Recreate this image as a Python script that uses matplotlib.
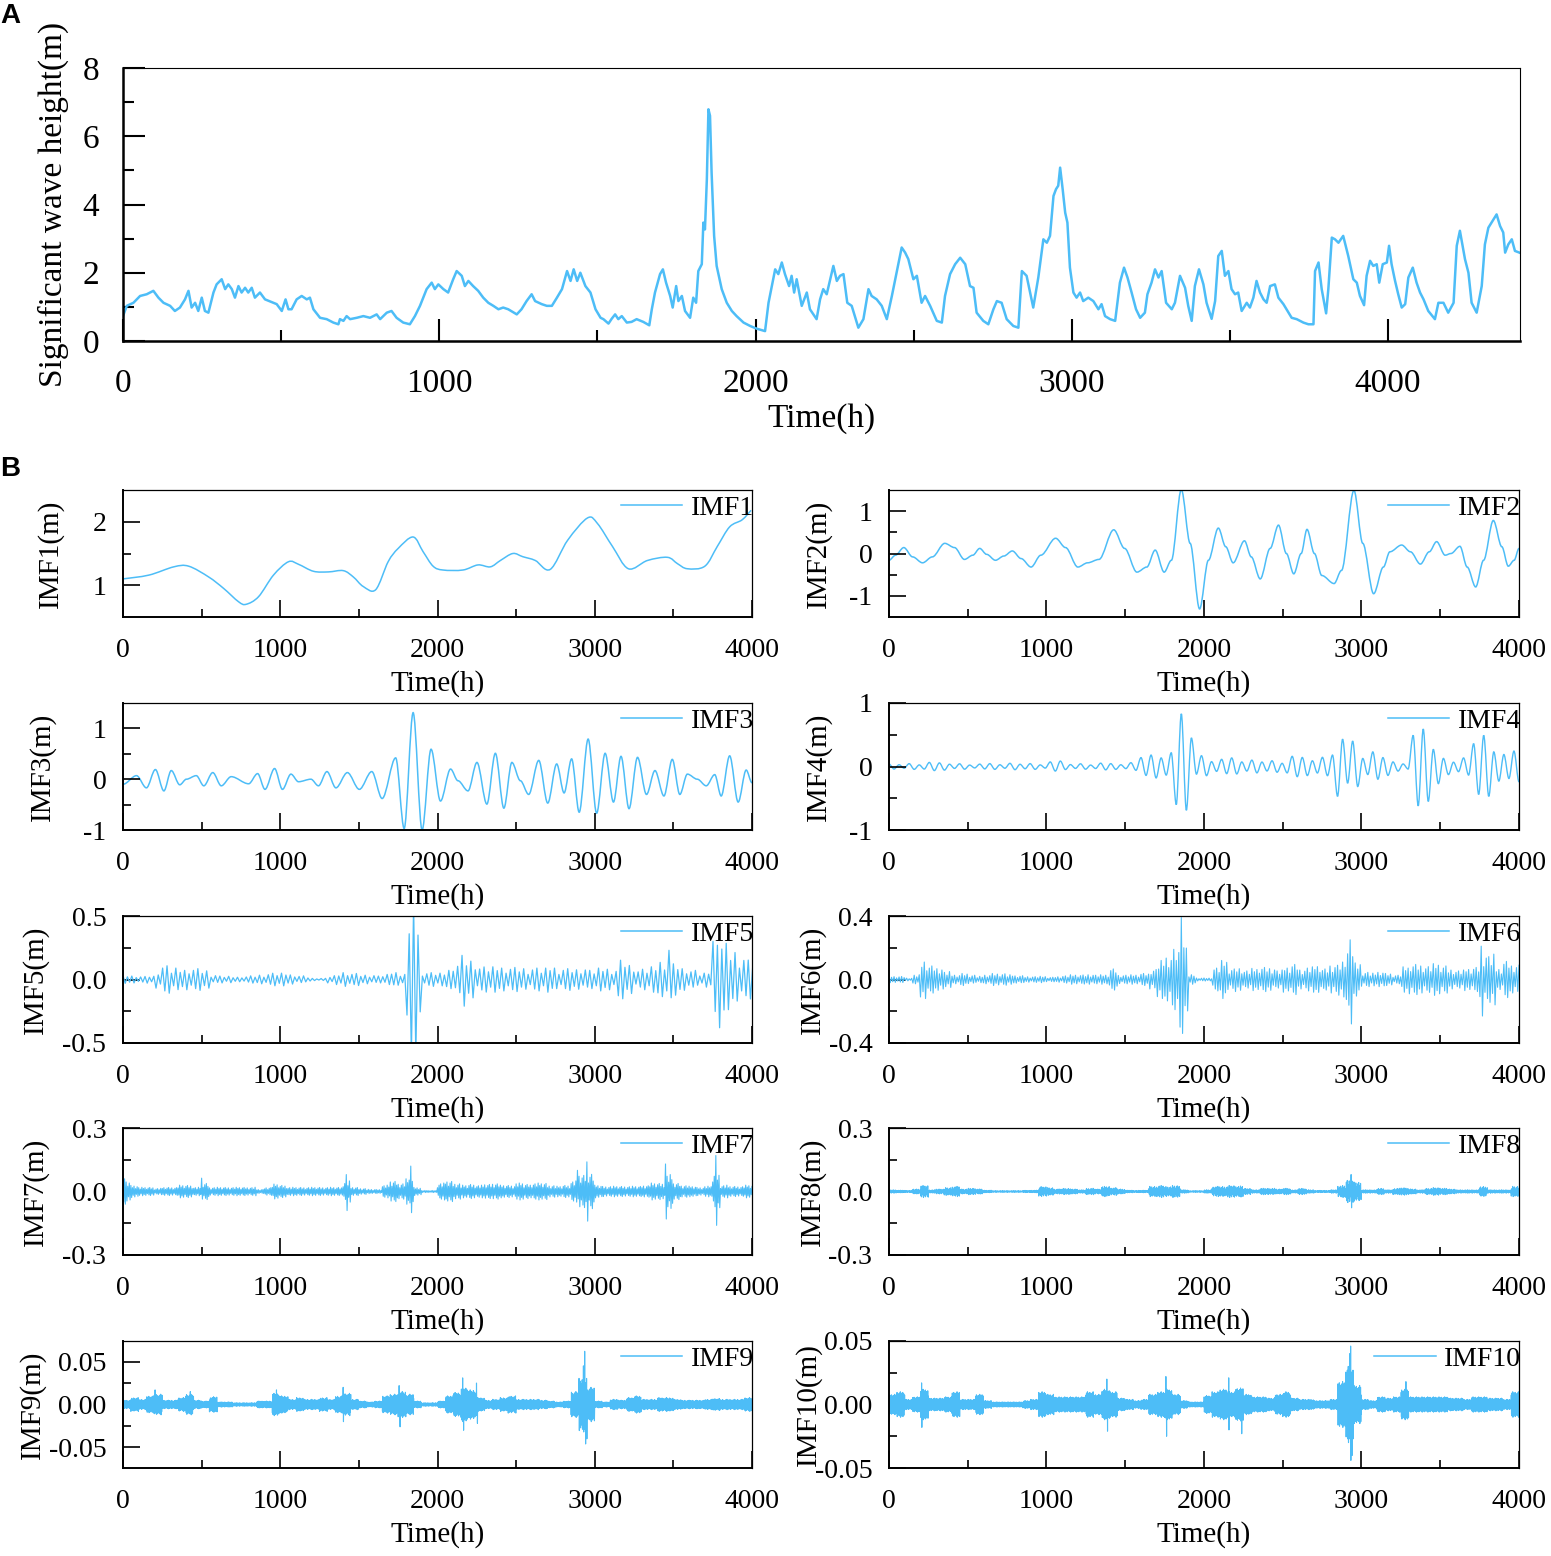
import matplotlib.pyplot as plt
import numpy as np
from matplotlib.lines import Line2D
from matplotlib.path import Path
from matplotlib.patches import PathPatch
from matplotlib.ticker import MultipleLocator

plt.rcParams['font.family'] = ['Liberation Serif', 'DejaVu Serif']
plt.rcParams['axes.unicode_minus'] = False

BLUE = '#4dbdf7'

# ---- panel A: significant wave height ----
hs_time = [
    0, 12, 33, 54, 75, 96, 112, 128, 149, 164, 180, 196, 207, 217, 228, 238, 249, 259, 270, 286,
    296, 312, 323, 333, 344, 354, 365, 375, 386, 396, 407, 417, 433, 449, 470, 486, 502, 514, 523, 533,
    549, 565, 581, 591, 602, 623, 644, 665, 681, 686, 697, 707, 718, 739, 760, 781, 802, 813, 834, 849,
    865, 886, 907, 923, 939, 960, 976, 986, 997, 1013, 1028, 1044, 1055, 1071, 1081, 1092, 1107, 1123, 1139, 1155,
    1171, 1187, 1202, 1218, 1245, 1260, 1276, 1292, 1303, 1324, 1340, 1356, 1372, 1388, 1404, 1415, 1425, 1436, 1446, 1462,
    1478, 1494, 1510, 1519, 1535, 1545, 1556, 1566, 1577, 1593, 1608, 1624, 1645, 1664, 1672, 1682, 1698, 1707, 1717, 1730,
    1738, 1749, 1756, 1767, 1777, 1793, 1803, 1812, 1819, 1830, 1835, 1840, 1846, 1851, 1856, 1861, 1869, 1877, 1893, 1909,
    1925, 1940, 1962, 1983, 2004, 2030, 2041, 2062, 2072, 2083, 2093, 2106, 2114, 2122, 2130, 2146, 2162, 2172, 2193, 2204,
    2214, 2225, 2236, 2246, 2257, 2267, 2278, 2290, 2304, 2325, 2341, 2357, 2367, 2383, 2399, 2415, 2431, 2446, 2462, 2473,
    2483, 2499, 2510, 2525, 2536, 2552, 2573, 2589, 2599, 2615, 2631, 2647, 2663, 2678, 2689, 2699, 2720, 2736, 2752, 2763,
    2778, 2794, 2815, 2831, 2842, 2857, 2878, 2894, 2910, 2921, 2931, 2942, 2950, 2957, 2963, 2971, 2979, 2986, 2994, 3005,
    3015, 3026, 3036, 3052, 3068, 3084, 3094, 3105, 3121, 3137, 3152, 3165, 3176, 3189, 3203, 3216, 3231, 3239, 3252, 3263,
    3274, 3284, 3298, 3316, 3326, 3342, 3358, 3368, 3379, 3389, 3402, 3416, 3426, 3442, 3453, 3463, 3474, 3484, 3495, 3505,
    3516, 3526, 3537, 3553, 3563, 3574, 3584, 3595, 3606, 3616, 3627, 3642, 3653, 3669, 3685, 3695, 3711, 3732, 3748, 3764,
    3769, 3780, 3790, 3804, 3811, 3822, 3832, 3843, 3858, 3874, 3890, 3901, 3911, 3924, 3932, 3943, 3953, 3964, 3972, 3983,
    3996, 4003, 4011, 4022, 4032, 4043, 4054, 4064, 4078, 4090, 4101, 4112, 4127, 4148, 4159, 4175, 4190, 4207, 4217, 4227,
    4243, 4254, 4264, 4280, 4296, 4306, 4317, 4327, 4343, 4354, 4364, 4370, 4380, 4391, 4401, 4415,
]
hs_value = [
    0.73, 1.03, 1.12, 1.32, 1.37, 1.47, 1.27, 1.12, 1.03, 0.88, 0.98, 1.22, 1.47, 0.98, 1.12, 0.88, 1.27, 0.88, 0.83, 1.42,
    1.66, 1.81, 1.52, 1.66, 1.52, 1.27, 1.61, 1.42, 1.56, 1.42, 1.56, 1.27, 1.42, 1.22, 1.14, 1.08, 0.88, 1.22, 0.93, 0.93,
    1.22, 1.32, 1.22, 1.27, 0.93, 0.68, 0.64, 0.54, 0.49, 0.64, 0.59, 0.73, 0.64, 0.68, 0.73, 0.68, 0.78, 0.64, 0.83, 0.88,
    0.68, 0.54, 0.49, 0.73, 1.03, 1.52, 1.71, 1.52, 1.66, 1.52, 1.42, 1.81, 2.05, 1.91, 1.61, 1.76, 1.61, 1.47, 1.27, 1.12,
    1.03, 0.93, 0.98, 0.93, 0.78, 0.93, 1.17, 1.37, 1.17, 1.08, 1.03, 1.03, 1.27, 1.52, 2.05, 1.76, 2.10, 1.76, 2.00, 1.61,
    1.42, 0.93, 0.68, 0.64, 0.51, 0.65, 0.78, 0.64, 0.73, 0.54, 0.56, 0.64, 0.56, 0.46, 0.93, 1.42, 1.96, 2.10, 1.71, 1.32,
    0.98, 1.61, 1.17, 1.32, 0.88, 0.68, 1.27, 1.12, 2.05, 2.25, 3.47, 3.27, 4.74, 6.79, 6.60, 4.94, 3.08, 2.20, 1.52, 1.12,
    0.88, 0.73, 0.54, 0.44, 0.36, 0.29, 1.12, 2.10, 1.96, 2.30, 1.96, 1.61, 1.91, 1.42, 1.81, 1.03, 1.42, 0.93, 0.64, 1.22,
    1.52, 1.37, 1.81, 2.20, 1.76, 1.91, 1.96, 1.12, 1.03, 0.39, 0.64, 1.52, 1.32, 1.22, 1.03, 0.64, 1.32, 2.00, 2.74, 2.59,
    2.40, 1.81, 1.91, 1.12, 1.32, 1.03, 0.59, 0.54, 1.32, 1.96, 2.25, 2.44, 2.25, 1.61, 1.56, 0.83, 0.59, 0.49, 0.93, 1.17,
    1.12, 0.64, 0.44, 0.39, 2.05, 1.91, 0.98, 1.86, 2.98, 2.88, 3.08, 4.25, 4.45, 4.55, 5.08, 4.45, 3.76, 3.47, 2.15, 1.42,
    1.27, 1.42, 1.17, 1.27, 1.17, 0.93, 1.08, 0.73, 0.64, 0.59, 1.71, 2.15, 1.86, 1.42, 0.93, 0.68, 0.83, 1.37, 1.71, 2.10,
    1.86, 2.05, 1.12, 0.93, 1.12, 1.91, 1.56, 1.03, 0.59, 1.61, 2.10, 1.66, 1.12, 0.65, 1.17, 2.49, 2.64, 1.91, 2.05, 1.52,
    1.37, 1.42, 0.88, 1.12, 0.98, 1.27, 1.76, 1.42, 1.22, 1.12, 1.61, 1.66, 1.27, 1.08, 0.83, 0.68, 0.64, 0.54, 0.49, 0.49,
    2.05, 2.30, 1.52, 0.81, 1.52, 3.03, 2.98, 2.88, 3.08, 2.49, 1.81, 1.71, 1.32, 1.05, 1.91, 2.35, 2.20, 2.25, 1.71, 2.25,
    2.30, 2.79, 2.25, 1.76, 1.37, 0.98, 1.08, 1.86, 2.15, 1.71, 1.42, 1.22, 0.88, 0.64, 1.12, 1.12, 0.83, 1.12, 2.79, 3.23,
    2.40, 2.00, 1.12, 0.83, 1.61, 2.83, 3.32, 3.47, 3.71, 3.37, 3.18, 2.59, 2.83, 2.98, 2.64, 2.59,
]

# ---- IMF1: smooth trend ----
imf1_time = [0, 165, 323, 418, 545, 640, 735, 783, 862, 957, 1052, 1116, 1211, 1306, 1401, 1465, 1528,
             1607, 1686, 1750, 1845, 1908, 1972, 2035, 2162, 2257, 2336, 2400, 2479, 2542, 2622, 2717,
             2828, 2954, 3018, 3113, 3214, 3335, 3462, 3526, 3589, 3700, 3779, 3858, 3937, 3994]
imf1_value = [1.10, 1.16, 1.29, 1.30, 1.13, 0.95, 0.74, 0.70, 0.82, 1.16, 1.37, 1.33, 1.22, 1.21, 1.23,
              1.13, 0.98, 0.93, 1.37, 1.58, 1.76, 1.53, 1.30, 1.24, 1.24, 1.32, 1.29, 1.39, 1.50, 1.45,
              1.39, 1.25, 1.71, 2.06, 1.97, 1.61, 1.26, 1.39, 1.44, 1.34, 1.26, 1.30, 1.61, 1.92, 2.03, 2.18]

# ---- IMF2 / IMF3: successive extrema (time, value) ----
imf2_time = [0, 41, 94, 150, 213, 275, 354, 416, 479, 532, 576, 620, 676, 729, 783, 839, 902, 964, 1058,
             1121, 1199, 1261, 1333, 1427, 1496, 1574, 1637, 1690, 1747, 1793, 1856, 1912, 1972, 2028,
             2091, 2138, 2185, 2257, 2300, 2357, 2420, 2473, 2523, 2570, 2617, 2654, 2701, 2748, 2826,
             2873, 2952, 3008, 3077, 3139, 3180, 3255, 3311, 3374, 3430, 3477, 3531, 3568, 3625, 3671,
             3725, 3775, 3837, 3891, 3932, 3969, 4000]
imf2_value = [-0.16, -0.04, 0.14, -0.08, -0.22, -0.08, 0.24, 0.14, -0.14, -0.04, 0.12, -0.02, -0.16, -0.06,
              0.06, -0.12, -0.32, -0.04, 0.36, 0.14, -0.32, -0.22, -0.14, 0.56, 0.12, -0.44, -0.32, 0.08,
              -0.44, -0.16, 1.51, 0.24, -1.31, -0.16, 0.60, 0.16, -0.22, 0.30, -0.08, -0.60, 0.12, 0.67,
              0.0, -0.48, 0.0, 0.57, 0.0, -0.52, -0.71, -0.40, 1.49, 0.24, -0.95, -0.32, 0.04, 0.20, 0.04,
              -0.25, 0.04, 0.28, -0.04, 0.0, 0.17, -0.32, -0.79, -0.16, 0.78, 0.16, -0.30, -0.16, 0.12]

imf3_time = [0, 86, 149, 206, 260, 307, 361, 403, 466, 514, 571, 625, 688, 799, 856, 903, 964, 1014, 1068,
             1116, 1195, 1243, 1297, 1354, 1427, 1503, 1582, 1648, 1734, 1788, 1845, 1902, 1959, 2019,
             2083, 2130, 2194, 2251, 2314, 2368, 2422, 2473, 2527, 2580, 2644, 2701, 2758, 2805, 2853,
             2901, 2958, 3012, 3066, 3119, 3167, 3218, 3272, 3329, 3383, 3440, 3493, 3541, 3589, 3652,
             3709, 3763, 3804, 3858, 3912, 3963, 4000]
imf3_value = [-0.10, 0.07, -0.17, 0.19, -0.23, 0.17, -0.11, 0.0, 0.07, -0.13, 0.13, -0.13, 0.05, -0.09,
              0.11, -0.20, 0.21, -0.20, 0.10, -0.05, 0.0, -0.13, 0.15, -0.17, 0.13, -0.20, 0.15, -0.38,
              0.42, -0.97, 1.31, -1.0, 0.59, -0.43, 0.20, -0.03, -0.23, 0.33, -0.49, 0.51, -0.57, 0.33,
              -0.03, -0.30, 0.37, -0.47, 0.30, -0.27, 0.40, -0.65, 0.79, -0.67, 0.51, -0.45, 0.45, -0.58,
              0.43, -0.30, 0.17, -0.33, 0.39, -0.30, 0.10, 0.0, -0.13, 0.09, -0.33, 0.46, -0.45, 0.18, -0.07]

# ---- IMF4..IMF10: envelope per time bin (m) ----
imf4_amp = [0.04, 0.05, 0.08, 0.06, 0.05, 0.05, 0.05, 0.05, 0.05, 0.05,
            0.09, 0.05, 0.05, 0.07, 0.05, 0.06, 0.20, 0.27, 0.65, 0.20,
            0.17, 0.15, 0.13, 0.10, 0.10, 0.20, 0.15, 0.17, 0.40, 0.35,
            0.23, 0.20, 0.08, 0.45, 0.45, 0.15, 0.18, 0.40, 0.23, 0.27]
imf5_amp = [0.03, 0.03, 0.025, 0.03, 0.08, 0.12, 0.09, 0.08, 0.09, 0.09,
            0.08, 0.04, 0.03, 0.025, 0.02, 0.025, 0.03, 0.04, 0.05, 0.055,
            0.05, 0.04, 0.03, 0.02, 0.01, 0.01, 0.03, 0.04, 0.06, 0.05,
            0.04, 0.04, 0.03, 0.04, 0.06, 0.05, 0.35, 0.30, 0.06, 0.06,
            0.05, 0.08, 0.13, 0.18, 0.17, 0.11, 0.11, 0.10, 0.10, 0.10,
            0.10, 0.09, 0.10, 0.09, 0.10, 0.08, 0.09, 0.09, 0.10, 0.08,
            0.09, 0.09, 0.08, 0.16, 0.13, 0.08, 0.09, 0.10, 0.15, 0.18,
            0.13, 0.10, 0.08, 0.05, 0.06, 0.28, 0.30, 0.25, 0.20, 0.17]
imf6_amp = [0.02, 0.02, 0.01, 0.03, 0.11, 0.09, 0.08, 0.05, 0.03, 0.04,
            0.03, 0.02, 0.03, 0.04, 0.04, 0.03, 0.025, 0.02, 0.02, 0.02,
            0.015, 0.02, 0.025, 0.03, 0.03, 0.035, 0.03, 0.03, 0.07, 0.03,
            0.03, 0.03, 0.04, 0.07, 0.12, 0.15, 0.20, 0.22, 0.03, 0.01,
            0.01, 0.08, 0.12, 0.07, 0.08, 0.06, 0.07, 0.08, 0.08, 0.06,
            0.08, 0.10, 0.07, 0.08, 0.09, 0.07, 0.10, 0.11, 0.18, 0.11,
            0.05, 0.04, 0.05, 0.04, 0.03, 0.08, 0.10, 0.10, 0.09, 0.10,
            0.09, 0.07, 0.06, 0.07, 0.08, 0.18, 0.16, 0.07, 0.12, 0.10]
imf7_amp = [0.05, 0.03, 0.02, 0.02, 0.015, 0.02, 0.02, 0.03, 0.03, 0.02,
            0.04, 0.02, 0.02, 0.02, 0.02, 0.02, 0.02, 0.01, 0.02, 0.035,
            0.03, 0.02, 0.02, 0.02, 0.02, 0.02, 0.02, 0.02, 0.05, 0.02,
            0.015, 0.01, 0.01, 0.03, 0.05, 0.04, 0.06, 0.02, 0.005, 0.005,
            0.04, 0.05, 0.04, 0.03, 0.035, 0.03, 0.035, 0.04, 0.03, 0.03,
            0.04, 0.035, 0.04, 0.04, 0.03, 0.025, 0.03, 0.05, 0.08, 0.09,
            0.03, 0.025, 0.025, 0.025, 0.025, 0.025, 0.03, 0.04, 0.04, 0.08,
            0.04, 0.03, 0.025, 0.02, 0.025, 0.09, 0.03, 0.025, 0.025, 0.03]
imf8_amp = [0.008, 0.006, 0.005, 0.012, 0.028, 0.008, 0.012, 0.018, 0.024, 0.012,
            0.015, 0.012, 0.006, 0.004, 0.004, 0.004, 0.004, 0.005, 0.006, 0.024,
            0.018, 0.012, 0.015, 0.012, 0.008, 0.015, 0.012, 0.024, 0.018, 0.012,
            0.006, 0.005, 0.006, 0.024, 0.028, 0.024, 0.028, 0.008, 0.004, 0.004,
            0.008, 0.024, 0.024, 0.028, 0.026, 0.015, 0.008, 0.015, 0.015, 0.012,
            0.015, 0.008, 0.015, 0.008, 0.005, 0.005, 0.008, 0.028, 0.055, 0.045,
            0.008, 0.008, 0.015, 0.008, 0.015, 0.018, 0.012, 0.008, 0.015, 0.018,
            0.015, 0.012, 0.008, 0.008, 0.008, 0.024, 0.008, 0.008, 0.008, 0.024]
imf9_amp = [0.005, 0.008, 0.006, 0.01, 0.012, 0.005, 0.005, 0.008, 0.012, 0.005,
            0.004, 0.009, 0.003, 0.003, 0.002, 0.002, 0.002, 0.004, 0.004, 0.013,
            0.01, 0.006, 0.008, 0.006, 0.006, 0.008, 0.006, 0.01, 0.013, 0.006,
            0.004, 0.003, 0.004, 0.01, 0.012, 0.015, 0.012, 0.004, 0.002, 0.002,
            0.004, 0.01, 0.014, 0.02, 0.017, 0.008, 0.005, 0.006, 0.008, 0.01,
            0.006, 0.006, 0.006, 0.005, 0.004, 0.003, 0.004, 0.015, 0.032, 0.02,
            0.004, 0.003, 0.006, 0.005, 0.008, 0.01, 0.006, 0.006, 0.008, 0.008,
            0.006, 0.005, 0.005, 0.005, 0.006, 0.007, 0.006, 0.006, 0.006, 0.008]
imf10_amp = [0.008, 0.01, 0.004, 0.006, 0.012, 0.005, 0.005, 0.006, 0.01, 0.004,
             0.004, 0.008, 0.003, 0.002, 0.002, 0.002, 0.002, 0.003, 0.004, 0.01,
             0.008, 0.006, 0.006, 0.006, 0.006, 0.01, 0.008, 0.012, 0.01, 0.005,
             0.004, 0.003, 0.004, 0.008, 0.01, 0.012, 0.008, 0.003, 0.002, 0.002,
             0.007, 0.01, 0.012, 0.01, 0.013, 0.008, 0.006, 0.006, 0.005, 0.008,
             0.01, 0.005, 0.004, 0.004, 0.003, 0.003, 0.004, 0.018, 0.03, 0.015,
             0.004, 0.003, 0.006, 0.005, 0.006, 0.012, 0.006, 0.006, 0.006, 0.006,
             0.006, 0.005, 0.005, 0.004, 0.006, 0.006, 0.005, 0.005, 0.004, 0.01]

# half period of the oscillation of each IMF (h)
half_period = {4: 32, 5: 14, 6: 8, 7: 5, 8: 3, 9: 2, 10: 1.5}

# isolated spikes (time h, value m) that stand above the envelope
imf4_spikes = [(1815, -0.60), (1856, 0.83), (1887, -0.69), (1918, 0.45), (2851, 0.43), (2880, -0.47),
               (2914, 0.40), (3343, 0.49), (3374, -0.62), (3405, 0.59), (3437, -0.55), (3744, -0.44),
               (3775, 0.49), (3803, -0.47)]
imf5_spikes = [(1820, 0.36), (1835, -0.60), (1850, 0.60), (1865, -0.60), (1880, 0.35), (2162, 0.19),
               (2176, -0.21), (3462, 0.23), (3750, 0.30), (3800, -0.38), (3780, 0.27)]
imf6_spikes = [(1845, -0.30), (1853, 0.39), (1861, -0.34), (1869, 0.20), (2925, 0.25), (2941, -0.28),
               (3764, 0.21), (3772, -0.23), (228, 0.11), (236, -0.12)]
imf7_spikes = [(10, 0.06), (15, -0.06), (497, 0.063), (1417, 0.08), (1425, -0.09), (1830, 0.12),
               (1835, -0.10), (2890, 0.10), (2954, 0.14), (2960, -0.14), (3455, 0.13), (3460, -0.13),
               (3769, 0.17), (3775, -0.16)]
imf8_spikes = [(2925, 0.05), (2937, 0.08), (2940, -0.077), (2952, -0.05)]
imf9_spikes = [(2930, 0.045), (2938, 0.062), (2942, -0.046), (2950, -0.04), (2162, 0.031), (2166, -0.030),
               (2250, 0.025), (2254, -0.022), (1401, 0.020), (1404, -0.020), (1758, 0.022), (1762, -0.026),
               (203, 0.017), (428, 0.015), (975, 0.017)]
imf10_spikes = [(2925, 0.040), (2931, 0.046), (2934, -0.044), (2942, -0.040), (1384, 0.020), (1387, -0.021),
                (1759, 0.022), (1762, -0.025), (2156, 0.021), (2159, -0.020), (206, 0.017), (209, -0.018),
                (3281, 0.018), (2240, -0.023)]

# uneven height of successive swings inside a bin, so bursts are not flat bands
swing_texture = [1.0, 0.7, 0.9, 0.5, 0.8, 0.95, 0.6, 0.85, 0.45, 0.75, 0.9, 0.55]


def flat_path(t, v):
    # cubic Bezier segments with flat tangents at each extremum
    verts = [(t[0], v[0])]
    codes = [Path.MOVETO]
    for i in range(1, len(t)):
        dt = t[i] - t[i - 1]
        verts += [(t[i - 1] + dt / 3, v[i - 1]), (t[i] - dt / 3, v[i]), (t[i], v[i])]
        codes += [Path.CURVE4] * 3
    return Path(verts, codes)


def spline_path(t, v):
    # Catmull-Rom style Bezier path through the read points
    p = np.column_stack([t, v]).astype(float)
    ext = np.vstack([p[0], p, p[-1]])
    verts = [tuple(p[0])]
    codes = [Path.MOVETO]
    for i in range(1, len(p)):
        c1 = ext[i] + (ext[i + 1] - ext[i - 1]) / 6
        c2 = ext[i + 1] - (ext[i + 2] - ext[i]) / 6
        verts += [tuple(c1), tuple(c2), tuple(p[i])]
        codes += [Path.CURVE4] * 3
    return Path(verts, codes)


def dense_trace(amp, half, spikes):
    t = np.arange(0, 4000 + half, half)
    bin_w = 4000 / len(amp)
    idx = np.minimum((t // bin_w).astype(int), len(amp) - 1)
    k_all = np.arange(len(t))
    sign = np.where(k_all % 2 == 0, 1.0, -1.0)
    tex = np.asarray(swing_texture)[(k_all // 2) % len(swing_texture)]
    v = sign * np.asarray(amp)[idx] * tex
    for ts, vs in spikes:
        k = int(round(ts / half))
        if np.sign(vs) != sign[min(k, len(t) - 1)]:
            k = k + 1 if ts / half > k else k - 1
        k = min(max(k, 0), len(t) - 1)
        v[k] = vs
    return t, v


W, H = 1551, 1556
fig = plt.figure(figsize=(W / 100, H / 100), dpi=100)


def px_axes(left, top, right, bottom):
    return fig.add_axes([left / W, 1 - bottom / H, (right - left) / W, (bottom - top) / H])


# ---------------- panel A ----------------
ax = px_axes(123, 68, 1520, 341)
ax.plot(hs_time, hs_value, color=BLUE, lw=1.8)
ax.set_xlim(0, 4417)
ax.set_ylim(0, 8)
ax.set_xticks([0, 1000, 2000, 3000, 4000])
ax.xaxis.set_minor_locator(MultipleLocator(500))
ax.set_yticks([0, 2, 4, 6, 8])
ax.yaxis.set_minor_locator(MultipleLocator(1))
ax.tick_params(which='both', direction='in', top=False, right=False, labelsize=24, width=1.5)
ax.tick_params(which='major', length=16)
ax.tick_params(which='minor', length=8)
ax.tick_params(axis='x', pad=20)
ax.tick_params(axis='y', pad=17)
for s in ['left', 'bottom']:
    ax.spines[s].set_linewidth(1.8)
for s in ['top', 'right']:
    ax.spines[s].set_linewidth(0.8)
ax.set_xlabel('Time(h)', fontsize=24, labelpad=3)
ax.set_ylabel('Significant wave height(m)', fontsize=24, labelpad=10)

fig.text(0 / W, 1 - 3 / H, 'A', family='Liberation Sans', weight='bold', fontsize=20, va='top')
fig.text(0 / W, 1 - 456 / H, 'B', family='Liberation Sans', weight='bold', fontsize=20, va='top')

# ---------------- panel B ----------------
cols = [(123, 752), (889, 1519)]
rows = [490, 703, 916, 1128, 1341]
# horizontal centre (px) of each IMF y label in the reference
ylabel_x = {1: 50, 3: 42, 5: 35, 7: 35, 9: 32, 2: 818, 4: 818, 6: 812, 8: 812, 10: 808}

imf_specs = {
    1: dict(ylim=(0.5, 2.5), ticks=[1, 2], labels=['1', '2'], minor=[1.5]),
    2: dict(ylim=(-1.5, 1.5), ticks=[-1, 0, 1], labels=['-1', '0', '1'], minor=[-0.5, 0.5]),
    3: dict(ylim=(-1, 1.5), ticks=[-1, 0, 1], labels=['-1', '0', '1'], minor=[-0.5, 0.5]),
    4: dict(ylim=(-1, 1), ticks=[-1, 0, 1], labels=['-1', '0', '1'], minor=[-0.5, 0.5]),
    5: dict(ylim=(-0.5, 0.5), ticks=[-0.5, 0, 0.5], labels=['-0.5', '0.0', '0.5'], minor=[-0.25, 0.25]),
    6: dict(ylim=(-0.4, 0.4), ticks=[-0.4, 0, 0.4], labels=['-0.4', '0.0', '0.4'], minor=[-0.2, 0.2]),
    7: dict(ylim=(-0.3, 0.3), ticks=[-0.3, 0, 0.3], labels=['-0.3', '0.0', '0.3'], minor=[-0.15, 0.15]),
    8: dict(ylim=(-0.3, 0.3), ticks=[-0.3, 0, 0.3], labels=['-0.3', '0.0', '0.3'], minor=[-0.15, 0.15]),
    9: dict(ylim=(-0.074, 0.074), ticks=[-0.05, 0, 0.05], labels=['-0.05', '0.00', '0.05'],
            minor=[-0.025, 0.025]),
    10: dict(ylim=(-0.05, 0.05), ticks=[-0.05, 0, 0.05], labels=['-0.05', '0.00', '0.05'],
             minor=[-0.025, 0.025]),
}

dense = {4: (imf4_amp, imf4_spikes), 5: (imf5_amp, imf5_spikes), 6: (imf6_amp, imf6_spikes),
         7: (imf7_amp, imf7_spikes), 8: (imf8_amp, imf8_spikes), 9: (imf9_amp, imf9_spikes),
         10: (imf10_amp, imf10_spikes)}

for n in range(1, 11):
    r, c = (n - 1) // 2, (n - 1) % 2
    left, right = cols[c]
    top = rows[r]
    ax = px_axes(left, top, right, top + 127)
    spec = imf_specs[n]

    if n == 1:
        ax.add_patch(PathPatch(spline_path(imf1_time, imf1_value), fill=False, edgecolor=BLUE, lw=1.1))
    elif n == 2:
        ax.add_patch(PathPatch(flat_path(imf2_time, imf2_value), fill=False, edgecolor=BLUE, lw=1.1))
    elif n == 3:
        ax.add_patch(PathPatch(flat_path(imf3_time, imf3_value), fill=False, edgecolor=BLUE, lw=1.1))
    elif n == 4:
        t, v = dense_trace(imf4_amp, half_period[4], imf4_spikes)
        ax.add_patch(PathPatch(flat_path(t, v), fill=False, edgecolor=BLUE, lw=1.0))
    else:
        amp, spikes = dense[n]
        t, v = dense_trace(amp, half_period[n], spikes)
        ax.plot(t, v, color=BLUE, lw=0.8 if n >= 6 else 0.9)

    ax.set_xlim(0, 4000)
    ax.set_ylim(*spec['ylim'])
    ax.set_xticks([0, 1000, 2000, 3000, 4000])
    ax.xaxis.set_minor_locator(MultipleLocator(500))
    ax.set_yticks(spec['ticks'])
    ax.set_yticklabels(spec['labels'])
    ax.set_yticks(spec['minor'], minor=True)
    ax.tick_params(which='both', direction='in', top=False, right=False, labelsize=20, width=1.2)
    ax.tick_params(axis='x', pad=15)
    ax.tick_params(axis='y', pad=12)
    ax.tick_params(which='major', length=12)
    ax.tick_params(which='minor', length=6)
    for s in ['left', 'bottom']:
        ax.spines[s].set_linewidth(1.4)
    for s in ['top', 'right']:
        ax.spines[s].set_linewidth(0.9)
    ax.set_xlabel('Time(h)', fontsize=21, labelpad=5)
    ax.set_ylabel('IMF%d(m)' % n, fontsize=21)
    ax.yaxis.set_label_coords((ylabel_x[n] + 14 - left) / (right - left), 0.5)
    ax.legend([Line2D([], [], color=BLUE, lw=1.1)], ['IMF%d' % n], loc='upper right', frameon=False,
              fontsize=20, borderaxespad=0.0, borderpad=0.0, handlelength=2.2, handletextpad=0.3,
              bbox_to_anchor=(1.003, 0.955))

fig.savefig('out.png', dpi=100)
